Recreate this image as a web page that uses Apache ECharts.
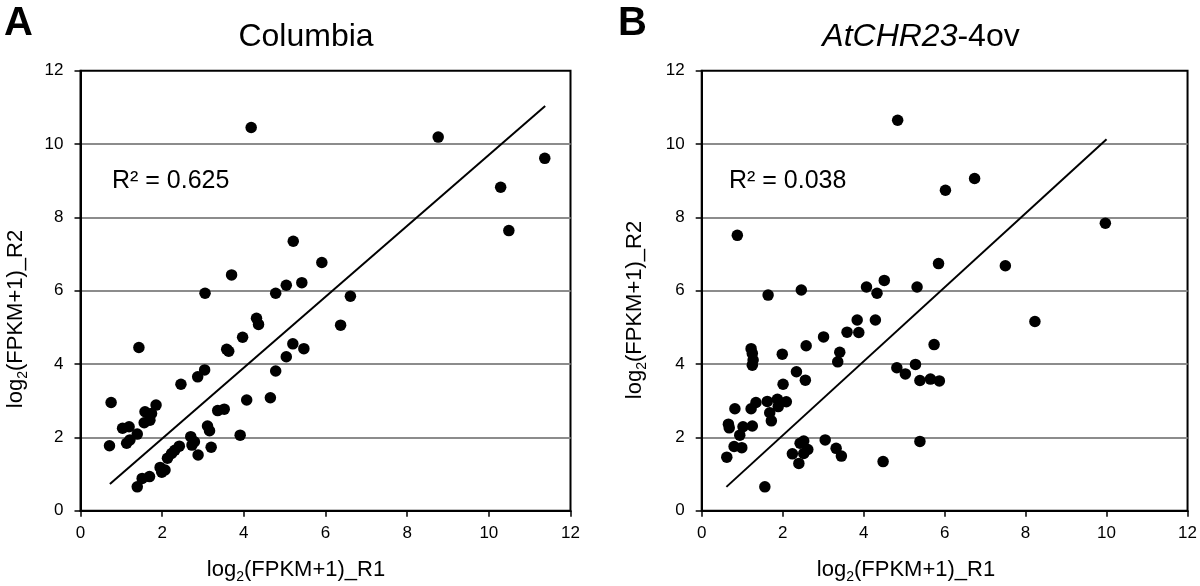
<!DOCTYPE html>
<html>
<head>
<meta charset="utf-8">
<script src="https://cdn.jsdelivr.net/npm/echarts@6/dist/echarts.min.js"></script>
<style>
  html, body { margin: 0; padding: 0; background: #fff; }
  #main { width: 1200px; height: 586px; }
</style>
</head>
<body>
<div id="main"></div>
<script>
// panel A - Columbia (x = R1, y = R2)
var colX = [4.18, 0.75, 0.71, 1.43, 1.03, 1.19, 1.13, 1.21, 1.39, 1.58, 1.56, 1.70, 1.74, 1.85,
  1.39, 1.51, 1.69, 1.95, 1.99, 2.07, 2.13, 2.23, 2.31, 2.42, 2.46, 2.70, 2.73, 2.79, 2.88, 2.87,
  3.04, 3.05, 3.11, 3.16, 3.20, 3.36, 3.52, 3.58, 3.63, 3.70, 3.91, 3.97, 4.07, 4.31, 4.36, 4.65,
  4.78, 4.78, 5.04, 5.04, 5.21, 5.20, 5.42, 5.47, 5.91, 6.37, 6.61, 8.76, 10.29, 10.49, 11.37];
var colY = [10.45, 2.95, 1.77, 4.45, 2.25, 2.29, 1.84, 1.93, 2.09, 2.70, 2.40, 2.47, 2.65, 2.88,
  0.65, 0.88, 0.93, 1.18, 1.05, 1.11, 1.43, 1.56, 1.65, 1.76, 3.45, 2.02, 1.79, 1.88, 1.52, 3.65,
  3.84, 5.93, 2.31, 2.18, 1.73, 2.73, 2.77, 4.40, 4.35, 6.43, 2.06, 4.73, 3.02, 5.25, 5.08, 3.08,
  5.93, 3.81, 6.15, 4.20, 7.35, 4.55, 6.22, 4.42, 6.77, 5.06, 5.85, 10.19, 8.82, 7.64, 9.61];
var colTrendX = [0.72, 11.38];
var colTrendY = [0.73, 11.04];
var colR2 = 'R² = 0.625';

// panel B - AtCHR23-4ov
var ovX = [4.84, 6.74, 6.02, 0.88, 5.85, 1.64, 2.46, 4.07, 4.33, 4.51, 5.32, 3.84, 4.29, 3.59,
  3.88, 3.01, 2.58, 3.41, 3.36, 1.99, 1.22, 1.25, 1.27, 1.25, 2.34, 2.56, 2.01, 5.74, 4.82, 5.03,
  5.28, 5.39, 5.65, 5.87, 5.39, 4.48, 1.62, 1.87, 2.09, 1.34, 1.22, 0.82, 1.68, 1.89, 1.72, 0.66,
  0.68, 1.02, 1.25, 0.94, 0.80, 0.99, 0.62, 1.56, 2.24, 2.40, 2.43, 2.52, 2.52, 2.62, 3.05, 3.32,
  3.45, 9.97, 7.50, 8.23];
var ovY = [10.65, 9.06, 8.74, 7.51, 6.74, 5.88, 6.02, 6.10, 5.93, 6.28, 6.10, 5.20, 5.20, 4.87,
  4.86, 4.74, 4.50, 4.32, 4.06, 4.27, 4.42, 4.29, 4.11, 3.97, 3.79, 3.56, 3.45, 4.53, 3.90, 3.73,
  3.99, 3.55, 3.59, 3.54, 1.89, 1.34, 2.98, 3.04, 2.97, 2.95, 2.78, 2.78, 2.67, 2.84, 2.45, 2.36,
  2.26, 2.29, 2.31, 2.06, 1.75, 1.72, 1.46, 0.65, 1.55, 1.29, 1.84, 1.90, 1.56, 1.67, 1.93, 1.70,
  1.49, 7.84, 6.68, 5.16];
var ovTrendX = [0.61, 10.0];
var ovTrendY = [0.65, 10.13];
var ovR2 = 'R² = 0.038';

var ticks = ['0', '2', '4', '6', '8', '10', '12'];

function pairs(xs, ys) {
  var out = [];
  for (var i = 0; i < xs.length; i++) {
    out.push([xs[i], ys[i]]);
  }
  return out;
}

var font = '"Liberation Sans", Arial, Helvetica, sans-serif';
var richLabel = {
  n: { fontSize: 22, fontFamily: font, color: '#000', lineHeight: 28 },
  s: { fontSize: 14, fontFamily: font, color: '#000', lineHeight: 28, verticalAlign: 'bottom' }
};

function xAxisOf(idx) {
  return {
    type: 'value', gridIndex: idx, min: 0, max: 12, interval: 2,
    axisLine: { show: true, onZero: false, lineStyle: { color: '#000', width: 2 } },
    axisTick: { show: true, length: 6, lineStyle: { color: '#000', width: 1.5 } },
    axisLabel: { color: '#000', fontSize: 17, fontFamily: font, margin: 14,
      formatter: function (v) { return ticks[Math.round(v / 2)]; } },
    splitLine: { show: false }
  };
}
function yAxisOf(idx) {
  return {
    type: 'value', gridIndex: idx, min: 0, max: 12, interval: 2,
    axisLine: { show: true, onZero: false, lineStyle: { color: '#000', width: 2 } },
    axisTick: { show: true, length: 6, lineStyle: { color: '#000', width: 1.5 } },
    axisLabel: { color: '#000', fontSize: 17, fontFamily: font, margin: 17,
      formatter: function (v) { return ticks[Math.round(v / 2)]; } },
    splitLine: { show: true, showMinLine: false, showMaxLine: false,
      lineStyle: { color: '#8c8c8c', width: 2 } }
  };
}

var chart = echarts.init(document.getElementById('main'));
var option = {
  backgroundColor: '#fff',
  animation: false,
  grid: [
    { left: 80.5, top: 70.7, width: 490, height: 440, show: true, borderColor: '#000', borderWidth: 2 },
    { left: 701.7, top: 70.7, width: 488, height: 440, show: true, borderColor: '#000', borderWidth: 2 }
  ],
  xAxis: [xAxisOf(0), xAxisOf(1)],
  yAxis: [yAxisOf(0), yAxisOf(1)],
  series: [
    { type: 'scatter', xAxisIndex: 0, yAxisIndex: 0, symbolSize: 11.5,
      itemStyle: { color: '#000', opacity: 1 }, data: pairs(colX, colY), z: 3 },
    { type: 'line', xAxisIndex: 0, yAxisIndex: 0, symbol: 'none',
      lineStyle: { color: '#000', width: 2 }, data: pairs(colTrendX, colTrendY), z: 4 },
    { type: 'scatter', xAxisIndex: 1, yAxisIndex: 1, symbolSize: 11.5,
      itemStyle: { color: '#000', opacity: 1 }, data: pairs(ovX, ovY), z: 3 },
    { type: 'line', xAxisIndex: 1, yAxisIndex: 1, symbol: 'none',
      lineStyle: { color: '#000', width: 2 }, data: pairs(ovTrendX, ovTrendY), z: 4 }
  ],
  graphic: [
    { type: 'text', x: 4, y: 24, style: { text: 'A', fontSize: 40, fontWeight: 'bold',
      fontFamily: font, fill: '#000', textVerticalAlign: 'middle' } },
    { type: 'text', x: 618, y: 24, style: { text: 'B', fontSize: 40, fontWeight: 'bold',
      fontFamily: font, fill: '#000', textVerticalAlign: 'middle' } },
    { type: 'text', x: 306, y: 37, style: { text: 'Columbia', fontSize: 32,
      fontFamily: font, fill: '#000', textAlign: 'center', textVerticalAlign: 'middle' } },
    { type: 'text', x: 921, y: 37, style: {
      text: '{i|AtCHR23}{n|-4ov}', textAlign: 'center', textVerticalAlign: 'middle',
      rich: {
        i: { fontSize: 32, fontStyle: 'italic', fontFamily: font, color: '#000' },
        n: { fontSize: 32, fontFamily: font, color: '#000' }
      } } },
    { type: 'text', x: 112, y: 181, style: { text: colR2, fontSize: 25,
      fontFamily: font, fill: '#000', textVerticalAlign: 'middle' } },
    { type: 'text', x: 729, y: 181, style: { text: ovR2, fontSize: 25,
      fontFamily: font, fill: '#000', textVerticalAlign: 'middle' } },
    { type: 'text', x: 296, y: 570, style: { text: '{n|log}{s|2}{n|(FPKM+1)_R1}',
      textAlign: 'center', textVerticalAlign: 'middle', rich: richLabel } },
    { type: 'text', x: 906, y: 570, style: { text: '{n|log}{s|2}{n|(FPKM+1)_R1}',
      textAlign: 'center', textVerticalAlign: 'middle', rich: richLabel } },
    { type: 'text', x: 16, y: 319, rotation: Math.PI / 2, style: { text: '{n|log}{s|2}{n|(FPKM+1)_R2}',
      textAlign: 'center', textVerticalAlign: 'middle', rich: richLabel } },
    { type: 'text', x: 635, y: 310, rotation: Math.PI / 2, style: { text: '{n|log}{s|2}{n|(FPKM+1)_R2}',
      textAlign: 'center', textVerticalAlign: 'middle', rich: richLabel } }
  ]
};
chart.setOption(option);
window.addEventListener('resize', chart.resize);
</script>
</body>
</html>
